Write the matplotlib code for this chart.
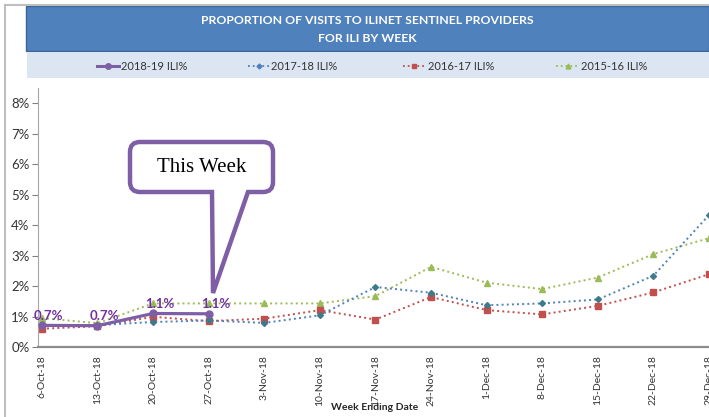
import matplotlib
matplotlib.use("Agg")
import matplotlib.pyplot as plt
from matplotlib.lines import Line2D
from matplotlib.patches import Rectangle, PathPatch
from matplotlib.path import Path

weeks = ["6-Oct-18", "13-Oct-18", "20-Oct-18", "27-Oct-18", "3-Nov-18", "10-Nov-18",
         "17-Nov-18", "24-Nov-18", "1-Dec-18", "8-Dec-18", "15-Dec-18", "22-Dec-18", "29-Dec-18"]
ili_2018_19 = [0.71, 0.70, 1.10, 1.09]
labels_2018_19 = ["0.7%", "0.7%", "1.1%", "1.1%"]
ili_2017_18 = [0.72, 0.72, 0.82, 0.87, 0.79, 1.04, 1.97, 1.78, 1.37, 1.43, 1.56, 2.34, 4.33]
ili_2016_17 = [0.60, 0.68, 0.99, 0.85, 0.93, 1.21, 0.90, 1.64, 1.21, 1.07, 1.35, 1.79, 2.39]
ili_2015_16 = [0.95, 0.78, 1.43, 1.43, 1.43, 1.43, 1.67, 2.63, 2.11, 1.90, 2.28, 3.05, 3.57]
yticks = [0, 1, 2, 3, 4, 5, 6, 7, 8]

W, H = 709, 417
fig = plt.figure(figsize=(W / 100, H / 100), dpi=100)
plt.rcParams['font.family'] = ['Lato', 'DejaVu Sans']

def fx(x):
    return x / W

def fy(y):
    return 1 - y / H

PURPLE = "#7E5FA6"
BLUE = "#4F81BD"
RED = "#C0504D"
GREEN = "#9BBB59"
TXT = "#333333"

# outer frame lines
fig.add_artist(Line2D([fx(5), fx(5)], [fy(5), fy(417)], color="#BFBFBF", lw=1.5, transform=fig.transFigure))
fig.add_artist(Line2D([fx(5), fx(709)], [fy(5), fy(5)], color="#BFBFBF", lw=1.5, transform=fig.transFigure))

# title banner
fig.add_artist(Rectangle((fx(26), fy(51)), fx(709) - fx(26), fy(6) - fy(51), facecolor="#4F81BD",
                         edgecolor="#3A6596", lw=1, transform=fig.transFigure))
fig.text(fx(367), fy(20), "PROPORTION OF VISITS TO ILINET SENTINEL PROVIDERS", color="white",
         fontsize=8.8, fontweight="bold", ha="center", va="center")
fig.text(fx(367), fy(38), "FOR ILI BY WEEK", color="white", fontsize=8.8, fontweight="bold",
         ha="center", va="center")
# legend band
fig.add_artist(Rectangle((fx(27), fy(78)), fx(709) - fx(27), fy(52) - fy(78), facecolor="#DCE6F2",
                         edgecolor="none", transform=fig.transFigure))

leg = [
    ("2018-19 ILI%", PURPLE, "-", "o", 2.2, 97, 119, 121, 4),
    ("2017-18 ILI%", BLUE, ":", "D", 1.3, 248, 269, 271, 2.5),
    ("2016-17 ILI%", RED, ":", "s", 1.3, 403, 425, 428, 3.5),
    ("2015-16 ILI%", GREEN, ":", "^", 1.3, 556, 579, 581, 3.5),
]
ly = 66
for name, c, ls, m, lw, x0, x1, xt, ms in leg:
    fig.add_artist(Line2D([fx(x0), fx(x1)], [fy(ly), fy(ly)], color=c, ls=ls, lw=lw,
                          transform=fig.transFigure))
    fig.add_artist(Line2D([fx((x0 + x1) / 2)], [fy(ly)], color=c, marker=m, ms=ms, lw=0,
                          transform=fig.transFigure))
    fig.text(fx(xt), fy(ly), name, fontsize=8, color=TXT, ha="left", va="center")

# axes
ax = fig.add_axes([fx(38), fy(347), fx(709) - fx(38), fy(88) - fy(347)])
x = list(range(len(weeks)))
ax.plot(x, ili_2015_16, color=GREEN, ls=":", lw=1.4, marker="^", ms=4.5, zorder=2)
ax.plot(x, ili_2016_17, color=RED, ls=":", lw=1.4, marker="s", ms=4, zorder=2)
ax.plot(x, ili_2017_18, color=BLUE, ls=":", lw=1.4, marker="D", ms=3, mfc="#3D7A8A", mec="#3D7A8A", zorder=3)
x4 = x[:len(ili_2018_19)]
ax.plot(x4, ili_2018_19, color=PURPLE, ls="-", lw=2.3, marker="o", ms=5, zorder=4)
for xi, yi, lab in zip(x4, ili_2018_19, labels_2018_19):
    ax.annotate(lab, (xi, yi), xytext=(5, 7), textcoords="offset points", ha="center", va="center",
                color="#7030A0", fontsize=9.5, fontweight="bold", zorder=5)

ax.set_xlim(-0.07, 11.99)
ax.set_ylim(0, 8.5)
ax.set_yticks(yticks)
ax.set_yticklabels([f"{v}%" for v in yticks], fontsize=9.5, color=TXT)
ax.set_xticks(x)
ax.set_xticklabels(weeks, rotation=90, fontsize=7.5, color=TXT)
ax.tick_params(axis="y", length=4, color="#808080", pad=2)
ax.tick_params(axis="x", length=0, pad=6)
for s in ["top", "right"]:
    ax.spines[s].set_visible(False)
ax.spines["left"].set_color("#A6A6A6")
ax.spines["bottom"].set_color("#8C8C8C")
ax.spines["bottom"].set_linewidth(1.6)
ax.set_xlabel("Week Ending Date", fontsize=7.5, fontweight="bold", color="#262626", labelpad=2)
ax.xaxis.set_label_coords(fx(375 - 38) / (fx(709) - fx(38)), -(408 - 347) / (347 - 88))
ax.xaxis.label.set_va("center")

# callout "This Week"
x0, x1, y0, y1, r = 130, 273, 142, 192, 10
bx0, bx1, tipx, tipy = 212, 248, 213, 293
pts = [
    ((x0 + r, y0), Path.MOVETO),
    ((x1 - r, y0), Path.LINETO),
    ((x1, y0), Path.CURVE3), ((x1, y0 + r), Path.CURVE3),
    ((x1, y1 - r), Path.LINETO),
    ((x1, y1), Path.CURVE3), ((x1 - r, y1), Path.CURVE3),
    ((bx1, y1), Path.LINETO),
    ((tipx, tipy), Path.LINETO),
    ((bx0, y1), Path.LINETO),
    ((x0 + r, y1), Path.LINETO),
    ((x0, y1), Path.CURVE3), ((x0, y1 - r), Path.CURVE3),
    ((x0, y0 + r), Path.LINETO),
    ((x0, y0), Path.CURVE3), ((x0 + r, y0), Path.CURVE3),
    ((x0 + r, y0), Path.CLOSEPOLY),
]
verts = [(fx(p[0]), fy(p[1])) for p, _ in pts]
codes = [c for _, c in pts]
fig.add_artist(PathPatch(Path(verts, codes), facecolor="white", edgecolor=PURPLE, lw=3.2,
                         transform=fig.transFigure, zorder=10))
fig.text(fx((x0 + x1) / 2), fy((y0 + y1) / 2 + 1), "This Week", fontsize=15,
         family=["Liberation Serif", "DejaVu Serif"], ha="center", va="center", zorder=11)

fig.savefig("out.png", dpi=100)
